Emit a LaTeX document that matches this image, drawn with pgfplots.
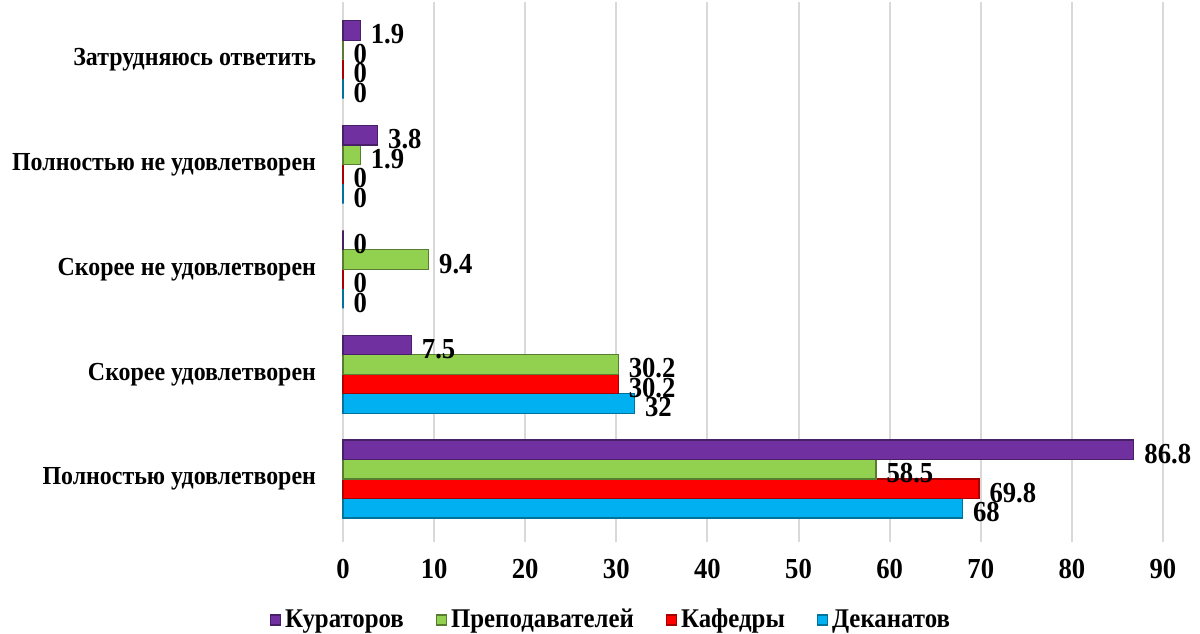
\documentclass[border=0pt]{standalone}
\usepackage{pgfplots}
\pgfplotsset{compat=1.18}
\usepackage{fontspec}
\setmainfont[FakeStretch=0.92]{Liberation Serif}
\definecolor{cPur}{HTML}{7030A0}
\definecolor{cGrn}{HTML}{92D050}
\definecolor{cRed}{HTML}{FF0000}
\definecolor{cBlu}{HTML}{00B0F0}
\definecolor{cGrid}{HTML}{D9D9D9}
\begin{document}
\begin{tikzpicture}
\begin{axis}[
  at={(0,0)}, anchor=south west,
  scale only axis,
  width=410pt, height=270pt,
  xbar=0pt, bar width=9.75pt,
  xmin=0, xmax=90,
  ymin=-0.6, ymax=4.55,
  axis line style={draw=none},
  xtick={0,10,...,90},
  ytick={0,1,2,3,4},
  yticklabels={Полностью удовлетворен, Скорее удовлетворен, Скорее не удовлетворен, Полностью не удовлетворен, Затрудняюсь ответить},
  major tick length=0pt,
  xmajorgrids, grid style={draw=cGrid, line width=1pt},
  xticklabel style={font=\bfseries\fontsize{14.5}{16}\selectfont, yshift=-5pt},
  yticklabel style={font=\bfseries\fontsize{13}{15}\selectfont, xshift=-10pt},
  /pgf/number format/assume math mode=true,
  clip=false,
  nodes near coords,
  every node near coord/.append style={font=\bfseries\fontsize{14.5}{15}\selectfont, anchor=west, inner sep=0pt, text height=0.64em, text depth=0pt, xshift=5pt, yshift=-3.5pt},
  legend style={at={(134.5pt,-39pt)}, anchor=center, draw=none, legend columns=4,
    font=\bfseries\fontsize{13.5}{15}\selectfont,
    /tikz/every even column/.append style={column sep=14pt}},
  legend image code/.code={\fill[#1] (0pt,-2.5pt) rectangle (5pt,2.5pt);},
  reverse legend,
]
\addplot[fill=cBlu, draw=cBlu!65!black, line width=0.6pt] coordinates {(68,0) (32,1) (0,2) (0,3) (0,4)};
\addplot[fill=cRed, draw=cRed!65!black, line width=0.6pt] coordinates {(69.8,0) (30.2,1) (0,2) (0,3) (0,4)};
\addplot[fill=cGrn, draw=cGrn!60!black, line width=0.6pt] coordinates {(58.5,0) (30.2,1) (9.4,2) (1.9,3) (0,4)};
\addplot[fill=cPur, draw=cPur!65!black, line width=0.6pt] coordinates {(86.8,0) (7.5,1) (0,2) (3.8,3) (1.9,4)};
\legend{Деканатов, Кафедры, Преподавателей, Кураторов}
\end{axis}
\pgfresetboundingbox
\path (-171.5pt,-45.5pt) rectangle (428.5pt,271pt);
\end{tikzpicture}
\end{document}
